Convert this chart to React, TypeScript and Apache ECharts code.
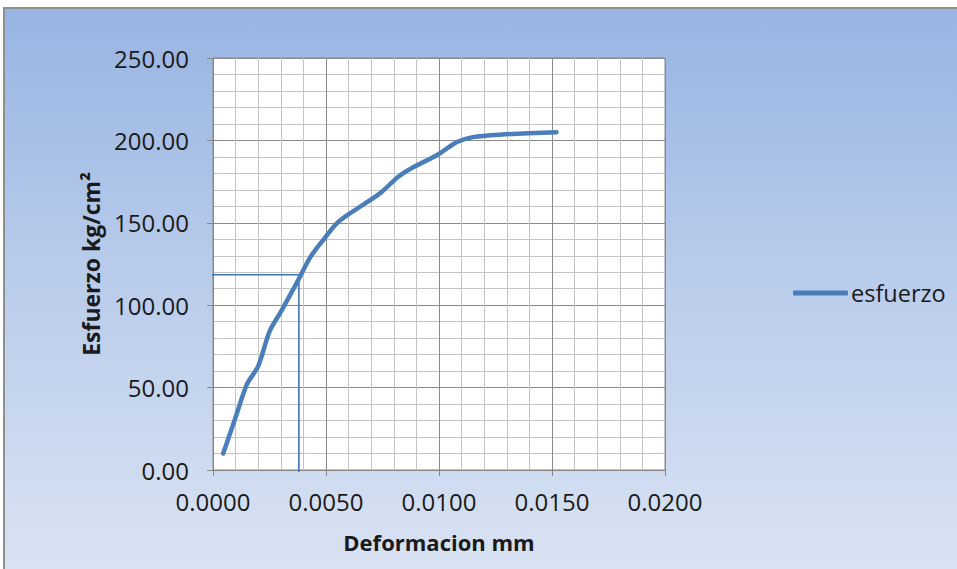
import React, { useEffect, useRef } from "react";
import * as echarts from "echarts";

const deformacion = [0.00045, 0.0010, 0.0015, 0.0020, 0.0025, 0.0030, 0.0038, 0.0043, 0.0049, 0.0055, 0.0062, 0.0074, 0.0082, 0.0089, 0.0099, 0.0108, 0.0115, 0.0127, 0.0152];
const esfuerzo = [10, 32, 52, 63, 84, 96, 116, 129, 140, 150, 157, 168, 178, 184, 191, 199, 202, 203.5, 205];
const refX = [0.0038];
const refY = [118.5];
const seriesName = "esfuerzo";
const xTitle = "Deformacion mm";
const yTitle = "Esfuerzo kg/cm²";

const FONT = "Open Sans";

export default function App() {
  const ref = useRef<HTMLDivElement>(null);
  useEffect(() => {
    document.body.style.margin = "0";
    const chart = echarts.init(ref.current!, undefined, { renderer: "svg" });
    const mainData = deformacion.map((x, i) => [x, esfuerzo[i]]);
    const refData = [
      [-0.0001, refY[0]],
      [refX[0], refY[0]],
      [refX[0], -1.2],
    ];
    chart.setOption({
      animation: false,
      backgroundColor: "transparent",
      grid: {
        left: 213, top: 58, right: 292, bottom: 99,
        show: true, backgroundColor: "#ffffff", borderColor: "#8a8a8a", borderWidth: 1,
      },
      legend: {
        data: [seriesName],
        left: 788,
        top: 276,
        icon: "roundRect",
        itemWidth: 55,
        itemHeight: 5,
        itemGap: 4,
        textStyle: { fontFamily: FONT, fontSize: 23.5, color: "#1a1a1a", padding: [0, 0, 0, -2] },
      },
      xAxis: {
        type: "value",
        min: 0,
        max: 0.02,
        interval: 0.005,
        name: xTitle,
        nameLocation: "middle",
        nameGap: 61,
        nameTextStyle: { fontFamily: FONT, fontSize: 22, fontWeight: "bold", color: "#1a1a1a" },
        axisLine: { show: true, lineStyle: { color: "#868686", width: 1 } },
        axisTick: { show: true, length: 6, lineStyle: { color: "#868686" } },
        axisLabel: { fontFamily: FONT, fontSize: 24, color: "#1a1a1a", margin: 19, formatter: (v: number) => v.toFixed(4) },
        splitLine: { show: true, lineStyle: { color: "#8a8a8a", width: 1 } },
        minorTick: { show: false, splitNumber: 5 },
        minorSplitLine: { show: true, lineStyle: { color: "#c4c4c4", width: 1 } },
      },
      yAxis: {
        type: "value",
        min: 0,
        max: 250,
        interval: 50,
        name: yTitle,
        nameLocation: "middle",
        nameGap: 111,
        nameTextStyle: { fontFamily: FONT, fontSize: 23, fontWeight: "bold", color: "#1a1a1a" },
        axisLine: { show: true, lineStyle: { color: "#868686", width: 1 } },
        axisTick: { show: true, length: 6, lineStyle: { color: "#868686" } },
        axisLabel: { fontFamily: FONT, fontSize: 24, color: "#1a1a1a", margin: 24, formatter: (v: number) => v.toFixed(2) },
        splitLine: { show: true, lineStyle: { color: "#8a8a8a", width: 1 } },
        minorTick: { show: false, splitNumber: 5 },
        minorSplitLine: { show: true, lineStyle: { color: "#c4c4c4", width: 1 } },
      },
      series: [
        {
          name: "ref",
          type: "line",
          data: refData,
          showSymbol: false,
          symbol: "none",
          clip: false,
          silent: true,
          lineStyle: { color: "#3f73b8", width: 1.6 },
          z: 3,
        },
        {
          name: seriesName,
          type: "line",
          data: mainData,
          smooth: 0.3,
          symbol: "none",
          showSymbol: false,
          itemStyle: { color: "#4a7ebb" },
          lineStyle: { color: "#4a7ebb", width: 4.5, cap: "round" },
          z: 4,
        },
      ],
    });
    return () => chart.dispose();
  }, []);
  return (
    <div style={{ position: "relative", width: 957, height: 569, background: "#ffffff", overflow: "hidden" }}>
      <div
        style={{
          position: "absolute",
          left: 3,
          top: 7,
          width: 980,
          height: 600,
          boxSizing: "border-box",
          border: "2px solid #8f8f8f",
          background: "linear-gradient(to bottom, #97b4e2 0%, #b9cceb 45%, #dde5f3 100%)",
        }}
      />
      <div ref={ref} style={{ position: "absolute", left: 0, top: 0, width: 957, height: 569 }} />
    </div>
  );
}
